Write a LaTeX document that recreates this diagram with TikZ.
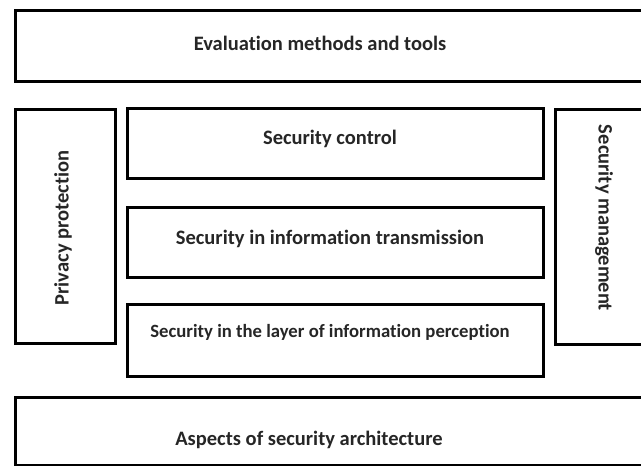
\documentclass[tikz,border=0pt]{standalone}
\usepackage{fontspec}
\setmainfont{Carlito}[Ligatures={NoCommon}]
\begin{document}
\begin{tikzpicture}[x=1pt,y=-1pt,
  frame/.style={draw=black, line width=3pt, inner sep=0pt, outer sep=0pt},
  caption/.style={font=\bfseries\fontsize{20.5}{24}\selectfont, inner sep=0pt, text=black!85}]
\useasboundingbox (0,0) rectangle (641,466);
\clip (0,0) rectangle (641,466);
\fill[white] (0,0) rectangle (641,466);
% outer rows
\draw[frame] (15,10) rectangle (660,81);
\draw[frame] (15,397) rectangle (660,465);
% side columns
\draw[frame] (15,109) rectangle (115,343);
\draw[frame] (555,109) rectangle (660,344);
% central stack
\draw[frame] (127,108) rectangle (543,178);
\draw[frame] (127,207) rectangle (543,277);
\draw[frame] (127,304) rectangle (543,376);
% captions
\node[caption] (eval) at (320,43) {Evaluation methods and tools};
\node[caption] (ctrl) at (330,139) {Security control};
\node[caption] (trans) at (330,239) {Security in information transmission};
\node[caption, font=\bfseries\fontsize{18.7}{22}\selectfont] (layer) at (330,332) {Security in the layer of information perception};
\node[caption] (arch) at (309,440) {Aspects of security architecture};
\node[caption, rotate=90] (priv) at (63,228) {Privacy protection};
\node[caption, rotate=-90] (mgmt) at (604,218) {Security management};
\end{tikzpicture}
\end{document}
